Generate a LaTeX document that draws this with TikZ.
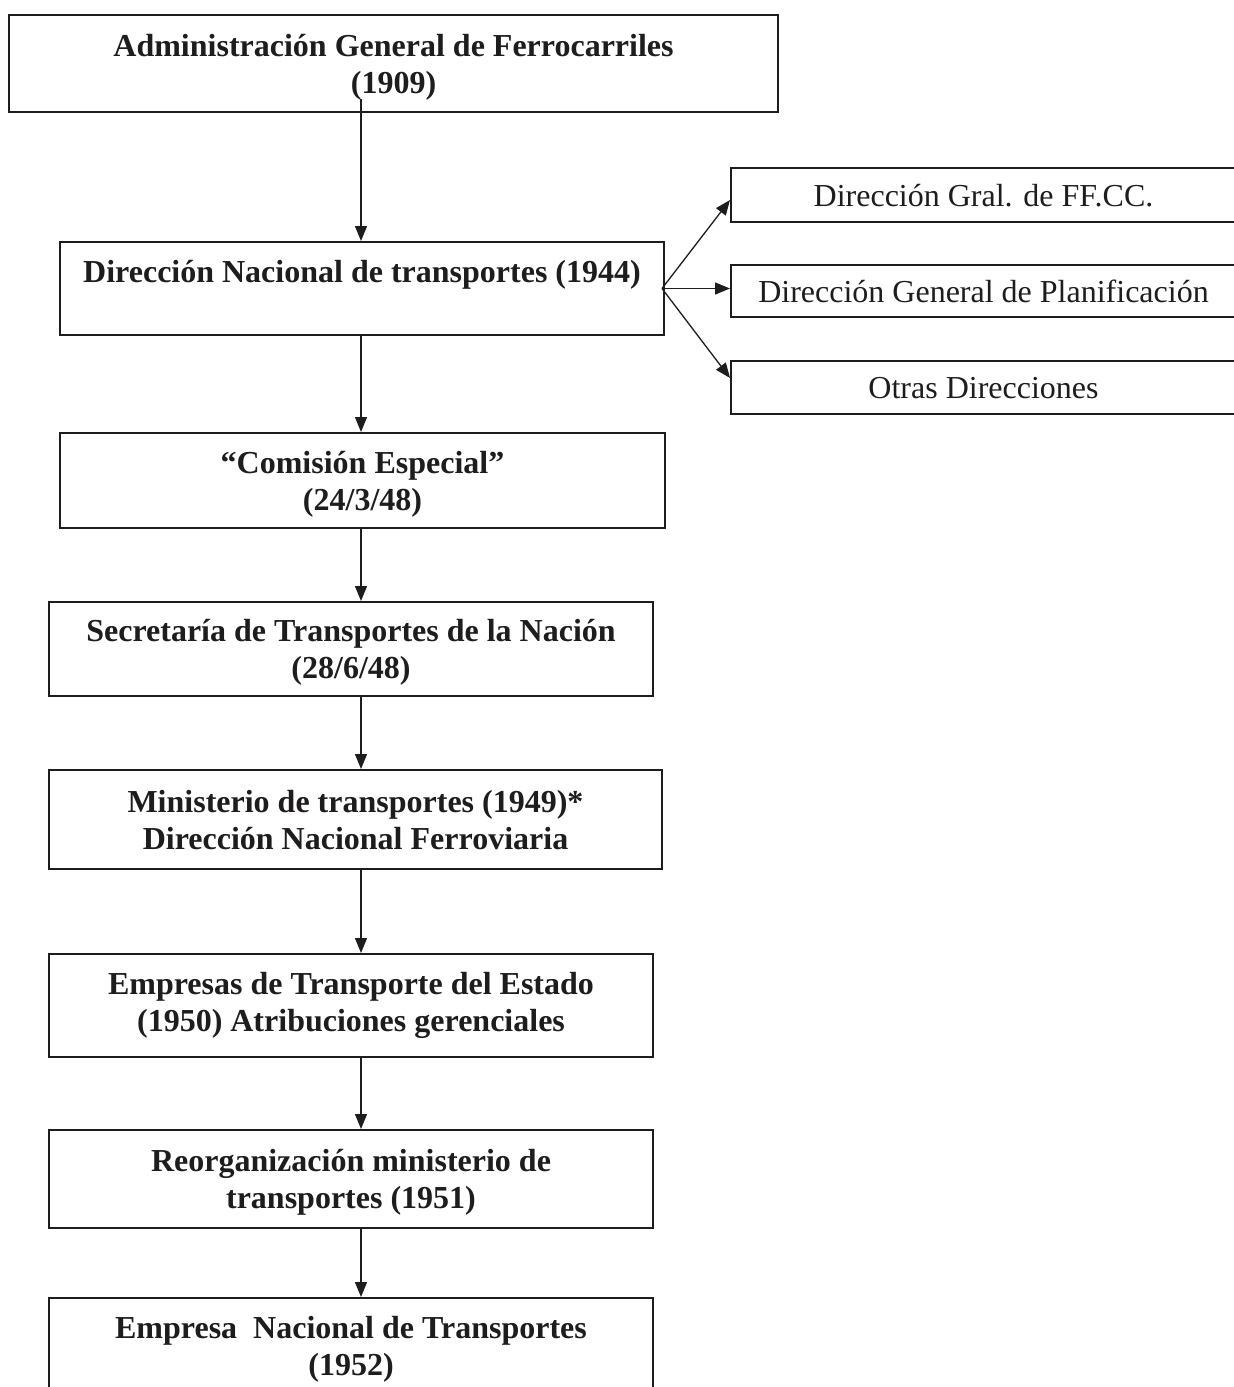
\documentclass[tikz,border=0pt]{standalone}
\usepackage{fontspec}
\setmainfont{Liberation Serif}
\usetikzlibrary{arrows.meta}
\definecolor{ink}{RGB}{30,28,29}
\newcommand{\chartfont}{\fontsize{16pt}{18.5pt}\selectfont}
\begin{document}
\begin{tikzpicture}[x=0.5pt,y=-0.5pt,
  box/.style={draw=ink, line width=1pt, rectangle, inner sep=0pt, align=center, text=ink, text depth=0pt, font=\bfseries\chartfont},
  sidebox/.style={draw=ink, line width=1pt, rectangle, inner sep=0pt, align=center, text=ink, text depth=0pt, font=\chartfont},
  txt/.style={inner sep=0pt, align=center, text=ink, text depth=0pt, font=\bfseries\chartfont},
  arr/.style={draw=ink, line width=0.65pt, -{Triangle[length=7.5pt,width=6pt]}}]
\useasboundingbox (0,0) rectangle (1234,1387);
\clip (0,0) rectangle (1234,1387);

% main column
\node[box, minimum width=384.5pt, minimum height=48.5pt] (b1) at (393.5,63.5)
  {Administración General de Ferrocarriles\\(1909)};
\node[box, minimum width=302pt, minimum height=46.5pt] (b2) at (362,288.5) {};
\node[txt] (t2) at (362,271) {Dirección Nacional de transportes (1944)};
\node[box, minimum width=302.5pt, minimum height=47.5pt] (b3) at (362.5,480.5)
  {“Comisión Especial”\\(24/3/48)};
\node[box, minimum width=302pt, minimum height=47pt] (b4) at (351,649)
  {Secretaría de Transportes de la Nación\\(28/6/48)};
\node[box, minimum width=306.5pt, minimum height=49.5pt] (b5) at (355.5,819.5)
  {Ministerio de transportes (1949)*\\Dirección Nacional Ferroviaria};
\node[box, minimum width=302pt, minimum height=51.5pt] (b6) at (351,1005.5) {};
\node[txt] (t6) at (351,1001.5)
  {Empresas de Transporte del Estado\\(1950) Atribuciones gerenciales};
\node[box, minimum width=302pt, minimum height=49pt] (b7) at (351,1179)
  {Reorganización ministerio de\\transportes (1951)};
\node[box, minimum width=302pt, minimum height=47.5pt] (b8) at (351,1345.5)
  {Empresa\ \ Nacional de Transportes\\(1952)};

% side boxes
\node[sidebox, minimum width=252.5pt, minimum height=27pt] (r1) at (983.5,195)
  {Dirección Gral. de FF.CC.};
\node[sidebox, minimum width=252.5pt, minimum height=26pt] (r2) at (983.5,291)
  {Dirección General de Planificación};
\node[sidebox, minimum width=252.5pt, minimum height=26.5pt] (r3) at (983.5,387.5)
  {Otras Direcciones};

% connectors
\coordinate (ax) at (361,0);
\coordinate (br) at ([xshift=-1.5pt]b2.east);
\draw[arr] ([yshift=7pt]b1.south -| ax) -- (b2.north -| ax);
\draw[arr] (b2.south -| ax) -- (b3.north -| ax);
\draw[arr] (b3.south -| ax) -- (b4.north -| ax);
\draw[arr] (b4.south -| ax) -- (b5.north -| ax);
\draw[arr] (b5.south -| ax) -- (b6.north -| ax);
\draw[arr] (b6.south -| ax) -- (b7.north -| ax);
\draw[arr] (b7.south -| ax) -- (b8.north -| ax);
\draw[arr] (br) -- ([yshift=-2.5pt]r1.west);
\draw[arr] (br) -- (r2.west |- br);
\draw[arr] (br) -- ([yshift=4.75pt]r3.west);
\end{tikzpicture}
\end{document}
